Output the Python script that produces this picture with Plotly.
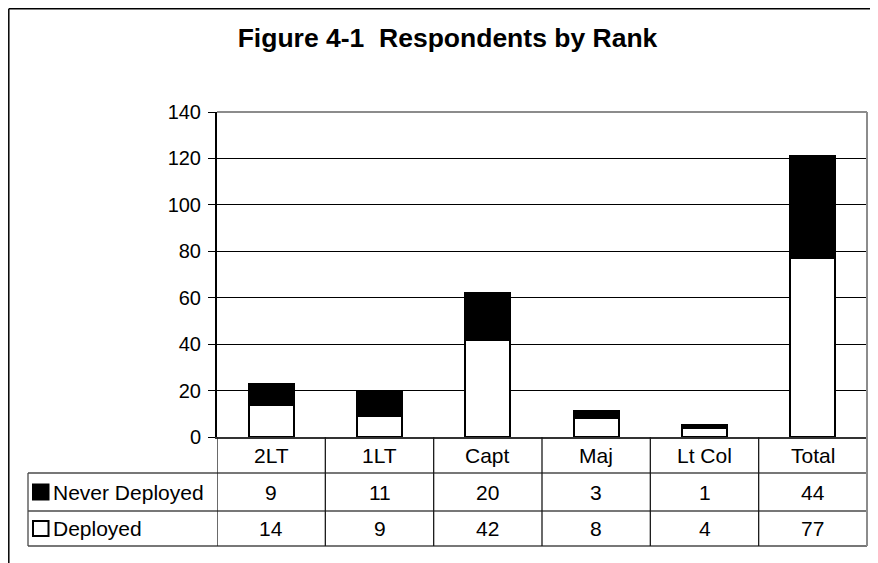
import plotly.graph_objects as go

ranks = ["2LT", "1LT", "Capt", "Maj", "Lt Col", "Total"]
never_deployed = [9, 11, 20, 3, 1, 44]
deployed = [14, 9, 42, 8, 4, 77]
y_ticks = [0, 20, 40, 60, 80, 100, 120, 140]

FONT = "Liberation Sans, Arial, sans-serif"
OFF = 8  # page body margin in the browser
W_FIG, H_FIG = 878 - OFF, 563 - OFF
L, T, R, B = 217 - OFF, 112 - OFF, 11, 126
PW = W_FIG - L - R
PH = H_FIG - T - B


def px(xs):
    """screen x -> paper x"""
    return (xs - OFF - L) / PW


def py(ys):
    """screen y -> paper y"""
    return (T + PH - (ys - OFF)) / PH


fig = go.Figure()
fig.add_trace(go.Bar(x=ranks, y=deployed, name="Deployed",
                     marker=dict(color="white", line=dict(color="black", width=2))))
fig.add_trace(go.Bar(x=ranks, y=never_deployed, name="Never Deployed",
                     marker=dict(color="black", line=dict(color="black", width=2))))

shapes = []
row_top, row1, row2, row_bot = 437, 473, 511, 546
leg_left = 28
hcol = "#4a4a4a"
vcol = "#1a1a1a"
for yp in (row1, row2, row_bot):
    shapes.append(dict(type="line", xref="paper", yref="paper", x0=px(leg_left), x1=1,
                       y0=py(yp), y1=py(yp), line=dict(color=hcol, width=1.3)))
shapes.append(dict(type="line", xref="paper", yref="paper", x0=px(leg_left), x1=px(leg_left),
                   y0=py(row1), y1=py(row_bot), line=dict(color=hcol, width=1.3)))
for i in range(len(ranks)):
    xb = i - 0.5
    shapes.append(dict(type="line", xref="x", yref="paper", x0=xb, x1=xb,
                       y0=py(row_bot), y1=0, line=dict(color=vcol, width=1.3)))
shapes.append(dict(type="line", xref="paper", yref="paper", x0=0, x1=1, y0=1, y1=1,
                   line=dict(color="#8c8c8c", width=2)))
shapes.append(dict(type="line", xref="paper", yref="paper", x0=1, x1=1, y0=py(row_bot), y1=1,
                   line=dict(color="#8c8c8c", width=2)))
for yc, fill in ((492, "black"), (528.5, "white")):
    shapes.append(dict(type="rect", xref="paper", yref="paper",
                       x0=px(33), x1=px(48.5), y0=py(yc + 7.5), y1=py(yc - 7.5),
                       fillcolor=fill, line=dict(color="black", width=2)))
# outer frame (top and left)
shapes.append(dict(type="line", xref="paper", yref="paper", x0=px(OFF + 0.8), x1=px(900),
                   y0=py(OFF + 0.8), y1=py(OFF + 0.8), line=dict(color="black", width=1.5)))
shapes.append(dict(type="line", xref="paper", yref="paper", x0=px(OFF + 0.8), x1=px(OFF + 0.8),
                   y0=py(OFF + 0.8), y1=py(600), line=dict(color="black", width=1.5)))

annotations = []
tfont = dict(family=FONT, size=21, color="black")
for i, r in enumerate(ranks):
    annotations.append(dict(x=r, y=py(455.5), xref="x", yref="paper", text=r,
                            showarrow=False, font=tfont, xanchor="center", yanchor="middle"))
    annotations.append(dict(x=r, y=py(492), xref="x", yref="paper", text=str(never_deployed[i]),
                            showarrow=False, font=tfont, xanchor="center", yanchor="middle"))
    annotations.append(dict(x=r, y=py(528.5), xref="x", yref="paper", text=str(deployed[i]),
                            showarrow=False, font=tfont, xanchor="center", yanchor="middle"))
for yc, name in ((492, "Never Deployed"), (528.5, "Deployed")):
    annotations.append(dict(x=px(51), y=py(yc), xref="paper", yref="paper", text=name,
                            showarrow=False, font=tfont, xanchor="left", yanchor="middle"))

fig.update_layout(
    width=W_FIG, height=H_FIG,
    margin=dict(l=L, r=R, t=T, b=B, pad=0),
    paper_bgcolor="white", plot_bgcolor="white",
    barmode="stack", bargap=0.585,
    showlegend=False,
    title=dict(text="<b>Figure 4-1\u00a0 Respondents by Rank</b>", x=(447.5 - OFF) / W_FIG,
               xanchor="center", y=1 - (38 - OFF) / H_FIG, yanchor="middle",
               xref="container", yref="container",
               font=dict(family=FONT, size=26.5, color="black")),
    xaxis=dict(range=[-0.5, len(ranks) - 0.5], showticklabels=False, ticks="",
               showgrid=False, zeroline=False, showline=True, linecolor="#333333", linewidth=1.5,
               fixedrange=True),
    yaxis=dict(range=[0, 140], tickvals=y_ticks, ticks="outside", ticklen=7, tickcolor="black",
               tickwidth=1, showline=True, linecolor="black", linewidth=2,
               showgrid=True, gridcolor="black", gridwidth=1, zeroline=False,
               tickfont=dict(family=FONT, size=20, color="black"), ticklabelstandoff=3,
               fixedrange=True),
    shapes=shapes, annotations=annotations,
    font=dict(family=FONT, color="black"),
)

fig.write_html("out.html")
